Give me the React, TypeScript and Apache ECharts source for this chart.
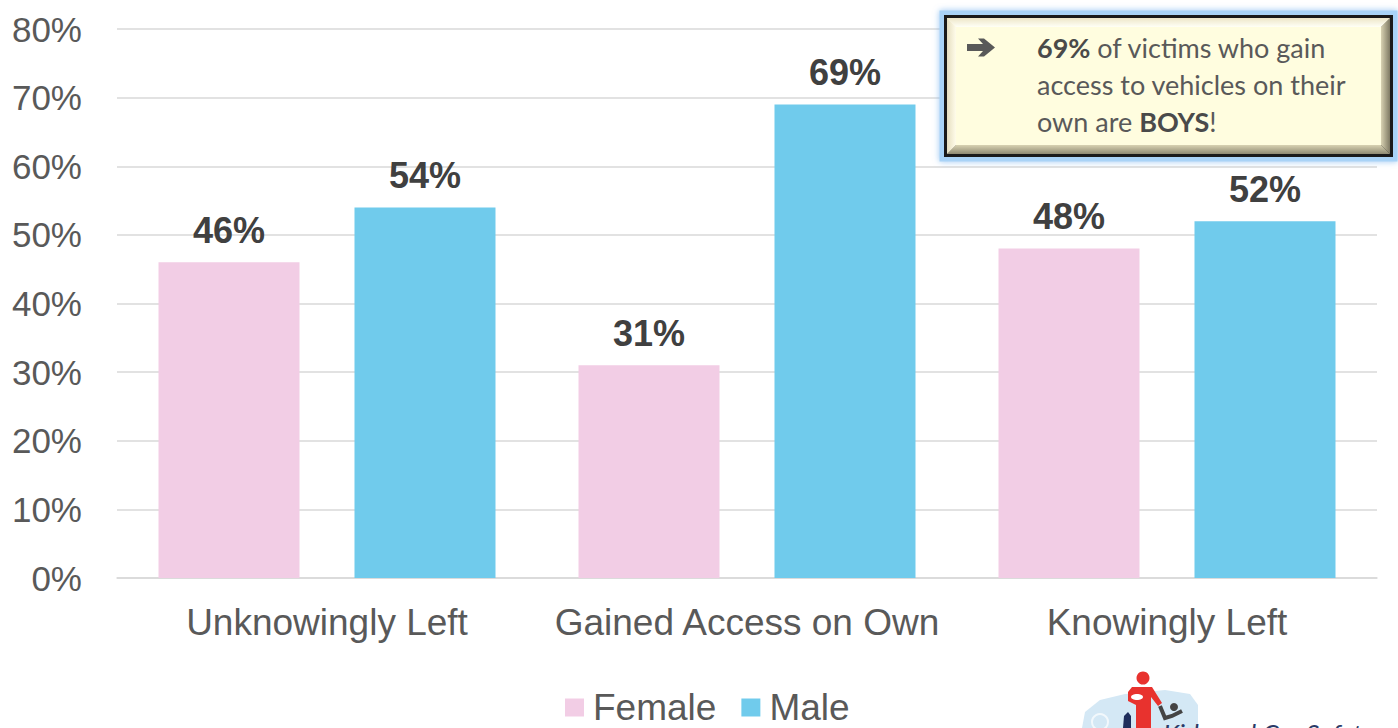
import React, { useEffect, useRef } from "react";
import * as echarts from "echarts";

const categories = ["Unknowingly Left", "Gained Access on Own", "Knowingly Left"];
const femaleValues = [46, 31, 48];
const maleValues = [54, 69, 52];
const seriesNames = ["Female", "Male"];
const calloutLines = [
  "{b|69%} of victims who gain",
  "access to vehicles on their",
  "own are {b|BOYS}!",
];

const FEMALE = "#F2CDE5";
const MALE = "#70CBEC";
const AXIS_TEXT = "#595959";
const SANS = "'Liberation Sans', Arial, sans-serif";

export default function App() {
  const ref = useRef<HTMLDivElement>(null);
  useEffect(() => {
    if (!ref.current) return;
    const chart = echarts.init(ref.current, null, { renderer: "svg" });
    const bx = 944, by = 15, bw = 449, bh = 142;
    const bev = 9;
    const ix = bx + 3, iy = by + 3, iw = bw - 6, ih = bh - 6;
    const labelStyle = {
      show: true,
      position: "top",
      distance: 14,
      formatter: "{c}%",
      fontFamily: SANS,
      fontWeight: "bold",
      fontSize: 36,
      color: "#404040",
    };
    const option: any = {
      animation: false,
      backgroundColor: "#ffffff",
      grid: { left: 117, right: 21, top: 29, bottom: 150, containLabel: false },
      xAxis: {
        type: "category",
        data: categories,
        axisLine: { lineStyle: { color: "#D9D9D9", width: 1.5 } },
        axisTick: { show: false },
        axisLabel: { interval: 0, fontFamily: SANS, fontSize: 37, color: AXIS_TEXT, margin: 26 },
      },
      yAxis: {
        type: "value",
        min: 0,
        max: 80,
        interval: 10,
        axisLine: { show: false },
        axisTick: { show: false },
        splitLine: { lineStyle: { color: "#D9D9D9", width: 1.5 } },
        axisLabel: { formatter: "{value}%", fontFamily: SANS, fontSize: 35, color: AXIS_TEXT, margin: 35 },
      },
      legend: {
        data: seriesNames,
        left: 565,
        top: 689,
        padding: 0,
        icon: "rect",
        itemWidth: 19,
        itemHeight: 18,
        itemGap: 25,
        textStyle: { fontFamily: SANS, fontSize: 37, lineHeight: 36, color: AXIS_TEXT, padding: [0, 0, 0, 4] },
      },
      series: [
        {
          name: seriesNames[0],
          type: "bar",
          data: femaleValues,
          barWidth: 141,
          barGap: "39%",
          itemStyle: { color: FEMALE },
          label: labelStyle,
        },
        {
          name: seriesNames[1],
          type: "bar",
          data: maleValues,
          barWidth: 141,
          itemStyle: { color: MALE },
          label: labelStyle,
        },
      ],
      graphic: [
        {
          type: "rect",
          shape: { x: bx - 2, y: by - 2, width: bw + 4, height: bh + 4 },
          style: { fill: "none", stroke: "#A9D3F7", lineWidth: 5, shadowBlur: 6, shadowColor: "rgba(120,180,240,0.8)" },
          z: 100,
        },
        {
          type: "rect",
          shape: { x: bx, y: by, width: bw, height: bh },
          style: { fill: "#1a1a1a" },
          z: 101,
        },
        {
          type: "polygon",
          shape: { points: [[ix, iy], [ix + iw, iy], [ix + iw - bev, iy + bev], [ix + bev, iy + bev], [ix + bev, iy + ih - bev], [ix, iy + ih]] },
          style: { fill: "#FFFCE8" },
          z: 102,
        },
        {
          type: "polygon",
          shape: { points: [[ix, iy], [ix + iw, iy], [ix + iw - bev, iy + bev], [ix + bev, iy + bev]] },
          style: {
            fill: new echarts.graphic.LinearGradient(0, 0, 0, 1, [
              { offset: 0, color: "#EDE6C8" },
              { offset: 1, color: "#FFFFF6" },
            ]),
          },
          z: 103,
        },
        {
          type: "polygon",
          shape: { points: [[ix, iy], [ix + bev, iy + bev], [ix + bev, iy + ih - bev], [ix, iy + ih]] },
          style: {
            fill: new echarts.graphic.LinearGradient(0, 0, 1, 0, [
              { offset: 0, color: "#E6DFC0" },
              { offset: 1, color: "#FFFCEA" },
            ]),
          },
          z: 103,
        },
        {
          type: "polygon",
          shape: { points: [[ix, iy + ih], [ix + bev, iy + ih - bev], [ix + iw - bev, iy + ih - bev], [ix + iw, iy + ih]] },
          style: {
            fill: new echarts.graphic.LinearGradient(0, 0, 0, 1, [
              { offset: 0, color: "#D8D2B2" },
              { offset: 1, color: "#8F8A72" },
            ]),
          },
          z: 103,
        },
        {
          type: "polygon",
          shape: { points: [[ix + iw, iy], [ix + iw, iy + ih], [ix + iw - bev, iy + ih - bev], [ix + iw - bev, iy + bev]] },
          style: {
            fill: new echarts.graphic.LinearGradient(0, 0, 1, 0, [
              { offset: 0, color: "#D8D2B2" },
              { offset: 1, color: "#7F7A64" },
            ]),
          },
          z: 103,
        },
        {
          type: "rect",
          shape: { x: ix + bev, y: iy + bev, width: iw - 2 * bev, height: ih - 2 * bev },
          style: { fill: "#FFFDDF" },
          z: 104,
        },
        {
          type: "polygon",
          shape: {
            points: [
              [967, 44], [983, 44], [978, 38.5], [984, 38.5], [995, 47.5],
              [984, 56.5], [978, 56.5], [983, 51], [967, 51],
            ],
          },
          style: { fill: "#595959" },
          z: 105,
        },
        ...calloutLines.map((line, i) => ({
          type: "text",
          x: 1037,
          y: 47 + i * 37,
          z: 105,
          style: {
            text: line,
            fontFamily: "Lato, 'Open Sans', sans-serif",
            fontSize: 27,
            fill: AXIS_TEXT,
            verticalAlign: "middle",
            align: "left",
            rich: {
              b: { fontFamily: "Lato, 'Open Sans', sans-serif", fontSize: 27, fontWeight: "bold", fill: "#4a4a4a", color: "#4a4a4a" },
            },
          },
        })),
        // logo (partial, bottom right)
        {
          type: "polygon",
          shape: {
            points: [
              [1082, 728], [1085, 712], [1100, 700], [1125, 694], [1165, 690], [1190, 694], [1198, 705], [1198, 728],
            ],
          },
          style: { fill: "#D4E8F5" },
          z: 50,
        },
        {
          type: "circle",
          shape: { cx: 1100, cy: 722, r: 8 },
          style: { fill: "none", stroke: "#F2F8FC", lineWidth: 2 },
          z: 51,
        },
        {
          type: "polygon",
          shape: {
            points: [[1123, 728], [1124, 716], [1128, 712], [1131, 716], [1131, 728]],
          },
          style: { fill: "#1F2E5C" },
          z: 52,
        },
        {
          type: "circle",
          shape: { cx: 1143, cy: 678, r: 6.5 },
          style: { fill: "#E8322E" },
          z: 52,
        },
        {
          type: "polygon",
          shape: {
            points: [
              [1132, 687], [1152, 687], [1162, 703], [1158, 706], [1151, 697], [1151, 728],
              [1136, 728], [1136, 705], [1128, 701], [1128, 692],
            ],
          },
          style: { fill: "#E8322E" },
          z: 52,
        },
        {
          type: "ellipse",
          shape: { cx: 1137, cy: 697, rx: 6, ry: 3 },
          style: { fill: "#ffffff" },
          z: 53,
        },
        {
          type: "circle",
          shape: { cx: 1174, cy: 707, r: 4 },
          style: { fill: "#444444" },
          z: 52,
        },
        {
          type: "polyline",
          shape: { points: [[1160, 706], [1165, 718], [1172, 716], [1182, 711]] },
          style: { stroke: "#444444", lineWidth: 4, fill: "none" },
          z: 52,
        },
        {
          type: "text",
          x: 1163,
          y: 720,
          z: 53,
          style: {
            text: "Kids and Car Safety",
            fontFamily: "Lato, sans-serif",
            fontSize: 26,
            fontStyle: "italic",
            fill: "#2B3A67",
            align: "left",
            verticalAlign: "top",
          },
        },
      ],
    };
    chart.setOption(option);
    return () => chart.dispose();
  }, []);
  return (
    <div
      ref={ref}
      style={{ position: "fixed", left: 0, top: 0, width: 1398, height: 728 }}
    />
  );
}
